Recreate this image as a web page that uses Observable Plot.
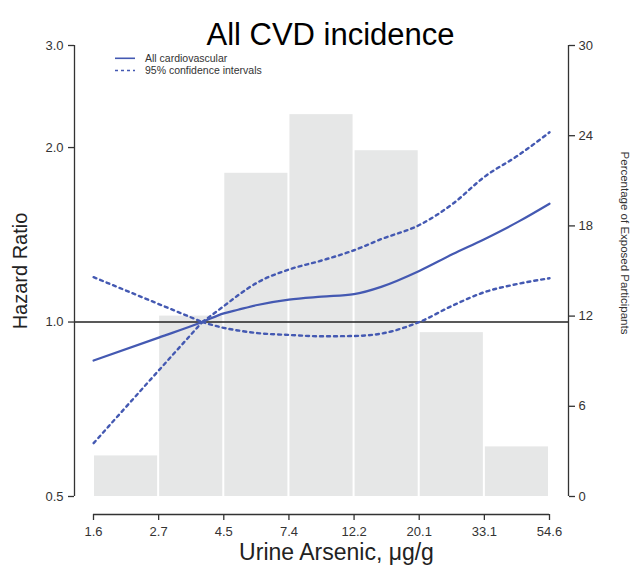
<!DOCTYPE html>
<html>
<head>
<meta charset="utf-8">
<script src="https://cdn.jsdelivr.net/npm/d3@7"></script>
<script src="https://cdn.jsdelivr.net/npm/@observablehq/plot@0.6"></script>
<style>
  body { margin: 0; background: white; }
  #chart { width: 635px; height: 572px; }
</style>
</head>
<body>
<div id="chart"></div>
<script>
// ---- data ----
const xTickLabels = ["1.6", "2.7", "4.5", "7.4", "12.2", "20.1", "33.1", "54.6"];
const xTickValues = [1.6487, 2.7183, 4.4817, 7.3891, 12.1825, 20.0855, 33.1155, 54.5982];
const barPercent = [2.7, 12.0, 21.5, 25.4, 23.0, 10.9, 3.3];
const hrTicks = [0.5, 1, 2, 3];
const pctTicks = [0, 6, 12, 18, 24, 30];

const curveArsenic = [1.65, 2.72, 3.8, 4.48, 5.0, 5.8, 7.39, 9.5, 12.18, 15, 20.09, 26, 33.12, 43, 54.6];
const hazardRatio  = [0.858, 0.94, 1.0, 1.035, 1.05, 1.07, 1.093, 1.106, 1.117, 1.15, 1.225, 1.31, 1.39, 1.49, 1.60];
const upperCI      = [1.195, 1.074, 1.0, 1.065, 1.112, 1.17, 1.232, 1.277, 1.33, 1.39, 1.47, 1.60, 1.78, 1.94, 2.125];
const lowerCI      = [0.618, 0.825, 1.0, 0.977, 0.967, 0.957, 0.95, 0.945, 0.946, 0.955, 1.0, 1.068, 1.126, 1.164, 1.19];
const referenceArsenic = 3.8;

// percentage axis (right) shares the log HR scale: 0% -> 0.5, 30% -> 3.0
const hrMin = 0.5, hrMax = 3, pctMax = 30;
const pctToHR = p => hrMin * Math.pow(hrMax / hrMin, p / pctMax);
const hrToPct = h => Math.log(h / hrMin) / Math.log(hrMax / hrMin) * pctMax;

const bars = barPercent.map((p, i) => ({x1: xTickValues[i], x2: xTickValues[i + 1], top: pctToHR(p)}));
const mainRows = curveArsenic.map((x, i) => ({x, hr: hazardRatio[i]}));
const ciRows = [];
curveArsenic.forEach((x, i) => {
  if (x <= referenceArsenic) {
    ciRows.push({x, hr: upperCI[i], z: "upper-left"});
    ciRows.push({x, hr: lowerCI[i], z: "lower-left"});
  }
  if (x >= referenceArsenic) {
    ciRows.push({x, hr: upperCI[i], z: "upper-right"});
    ciRows.push({x, hr: lowerCI[i], z: "lower-right"});
  }
});
const xLabelRows = xTickValues.map((v, i) => ({v, label: xTickLabels[i]}));

const blue = "#4459b2";
const axisColor = "#333";
const font = "'Liberation Sans', Arial, Helvetica, sans-serif";

const chart = Plot.plot({
  width: 635,
  height: 572,
  marginTop: 45,
  marginBottom: 76,
  marginLeft: 74,
  marginRight: 67,
  style: {fontFamily: font, background: "white"},
  x: {type: "log", domain: [xTickValues[0], xTickValues[xTickValues.length - 1]], insetLeft: 19, insetRight: 19},
  y: {type: "log", domain: [hrMin, hrMax]},
  marks: [
    Plot.rect(bars, {x1: "x1", x2: "x2", y1: hrMin, y2: "top", fill: "#e6e7e7", insetLeft: 1, insetRight: 1}),
    Plot.ruleY([1], {stroke: "#222", strokeWidth: 1.6}),
    Plot.line(ciRows, {x: "x", y: "hr", z: "z", stroke: blue, strokeWidth: 2.4, strokeDasharray: "3,4", curve: "monotone-x"}),
    Plot.line(mainRows, {x: "x", y: "hr", stroke: blue, strokeWidth: 2.2, curve: "monotone-x"}),
    // axis lines
    Plot.ruleX([xTickValues[0]], {y1: hrMin, y2: hrMax, dx: -19, stroke: axisColor, strokeWidth: 1.3}),
    Plot.ruleX([xTickValues[xTickValues.length - 1]], {y1: hrMin, y2: hrMax, dx: 19, stroke: axisColor, strokeWidth: 1.3}),
    Plot.ruleY([hrMin], {x1: xTickValues[0], x2: xTickValues[xTickValues.length - 1], dy: 18, stroke: axisColor, strokeWidth: 1.3}),
    // axes
    Plot.axisY(hrTicks, {anchor: "left", tickFormat: d => d.toFixed(1), tickSize: 6, tickPadding: 5, fontSize: 13, color: axisColor, strokeWidth: 1.3, label: null}),
    Plot.axisY(pctTicks.map(pctToHR), {anchor: "right", tickFormat: d => String(Math.round(hrToPct(d))), tickSize: 6, tickPadding: 4, fontSize: 13, color: axisColor, strokeWidth: 1.3, label: null}),
    Plot.axisX(xTickValues, {anchor: "bottom", dy: 18, tickFormat: () => "", tickSize: 6, color: axisColor, strokeWidth: 1.3, label: null}),
    Plot.text(xLabelRows, {x: "v", text: "label", frameAnchor: "bottom", textAnchor: "middle", dy: 39, fontSize: 13, fill: axisColor}),
    // titles
    Plot.text(["All CVD incidence"], {frameAnchor: "top", textAnchor: "middle", dx: 9, dy: -23, fontSize: 31, fill: "#000"}),
    Plot.text(["Hazard Ratio"], {frameAnchor: "left", textAnchor: "middle", rotate: -90, dx: -54, fontSize: 20, fill: "#222"}),
    Plot.text(["Percentage of Exposed Participants"], {frameAnchor: "right", textAnchor: "middle", rotate: 90, dx: 56, dy: -28, fontSize: 11.5, fill: "#333"}),
    Plot.text(["Urine Arsenic, μg/g"], {frameAnchor: "bottom", textAnchor: "middle", dx: 15, dy: 63, fontSize: 23, fill: "#222"})
  ]
});

document.getElementById("chart").appendChild(chart);

// legend
const svg = d3.select(chart);
const legendItems = [
  {label: "All cardiovascular", dash: null},
  {label: "95% confidence intervals", dash: "3,3"}
];
const lg = svg.append("g").attr("font-family", font).attr("font-size", 10.5).attr("fill", "#333").attr("text-anchor", "start");
legendItems.forEach((item, i) => {
  const y = 58.3 + i * 12.2;
  const ln = lg.append("line").attr("x1", 115).attr("x2", 135).attr("y1", y).attr("y2", y)
    .attr("stroke", blue).attr("stroke-width", 1.6);
  if (item.dash) ln.attr("stroke-dasharray", item.dash);
  lg.append("text").attr("x", 145).attr("y", y).attr("dy", "0.35em").text(item.label);
});
</script>
</body>
</html>
